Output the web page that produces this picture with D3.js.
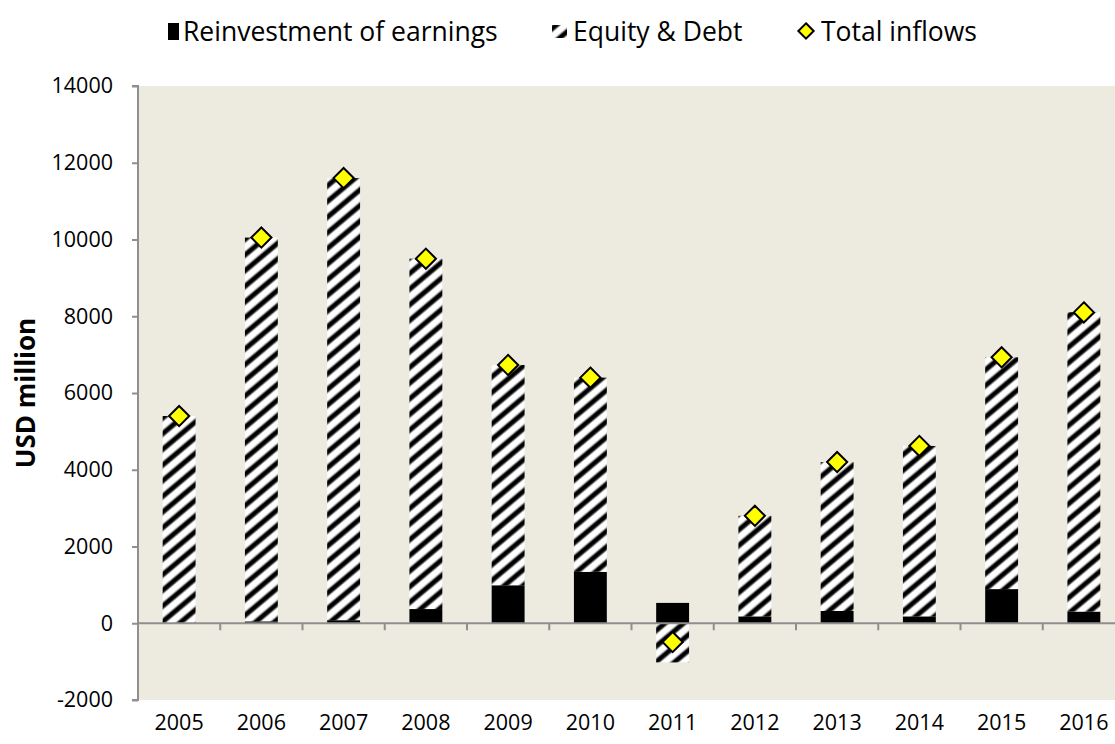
<!DOCTYPE html>
<html>
<head>
<meta charset="utf-8">
<script src="https://cdn.jsdelivr.net/npm/d3@7"></script>
<style>
  body { margin: 0; background: #fff; }
  text { font-family: "Open Sans", Lato, sans-serif; fill: #000; }
</style>
</head>
<body>
<div id="chart"></div>
<script>
// data (USD million)
const years = ["2005", "2006", "2007", "2008", "2009", "2010", "2011", "2012", "2013", "2014", "2015", "2016"];
const reinvestment = [10, 50, 80, 370, 990, 1340, 530, 180, 320, 180, 890, 305];
const equityDebt = [5390, 10000, 11520, 9130, 5740, 5060, -1020, 2620, 3880, 4440, 6040, 7800];
const totalInflows = [5400, 10050, 11600, 9500, 6730, 6400, -490, 2800, 4200, 4620, 6930, 8100];
const yTicks = [-2000, 0, 2000, 4000, 6000, 8000, 10000, 12000, 14000];

const width = 1115, height = 744;
const margin = { top: 86, left: 138, bottom: 44 };
const plotRight = 1125; // plot area runs off the right edge like the original

const svg = d3.select("#chart").append("svg")
    .attr("width", width)
    .attr("height", height);

// hatch pattern for Equity & Debt (wide upward diagonal, soft edges)
const defs = svg.append("defs");
const grad = defs.append("linearGradient").attr("id", "stripe");
[[0, "#fff"], [0.1, "#fff"], [0.28, "#000"], [0.52, "#000"], [0.7, "#fff"], [1, "#fff"]]
    .forEach(s => grad.append("stop").attr("offset", s[0]).attr("stop-color", s[1]));
const P = 12;
const pat = defs.append("pattern")
    .attr("id", "hatch")
    .attr("patternUnits", "userSpaceOnUse")
    .attr("width", P)
    .attr("height", P)
    .attr("patternTransform", "rotate(50)");
pat.append("rect").attr("width", P).attr("height", P).attr("fill", "url(#stripe)");

const x = d3.scaleBand()
    .domain(years)
    .range([margin.left, plotRight])
    .paddingInner(0.6)
    .paddingOuter(0.3);

const xOuter = d3.scaleBand().domain(years).range([margin.left, plotRight]);

const y = d3.scaleLinear()
    .domain([-2000, 14000])
    .range([height - margin.bottom, margin.top]);

// plot background
svg.append("rect")
    .attr("x", margin.left + 1)
    .attr("y", y(14000))
    .attr("width", plotRight - margin.left)
    .attr("height", y(-2000) - y(14000))
    .attr("fill", "#edeae0");

// bars
const g = svg.append("g");
years.forEach((yr, i) => {
    const r = reinvestment[i], e = equityDebt[i];
    // reinvestment from 0
    g.append("rect")
        .attr("x", x(yr))
        .attr("width", x.bandwidth())
        .attr("y", y(Math.max(0, r)))
        .attr("height", Math.abs(y(r) - y(0)))
        .attr("fill", "#000");
    // equity & debt stacked on top when positive, below zero when negative
    const base = e >= 0 ? r : 0;
    const top = base + e;
    g.append("rect")
        .attr("x", x(yr))
        .attr("width", x.bandwidth())
        .attr("y", y(Math.max(base, top)))
        .attr("height", Math.abs(y(top) - y(base)))
        .attr("fill", "url(#hatch)");
});

// axes
const axisColor = "#8f8f8f";
const yAxis = svg.append("g")
    .attr("transform", `translate(${margin.left},0)`)
    .call(d3.axisLeft(y).tickValues(yTicks).tickSize(6).tickPadding(19).tickFormat(d => String(d)));
yAxis.select(".domain").attr("stroke", axisColor).attr("stroke-width", 2).attr("d", `M-6,${y(14000)}H0V${y(-2000)}H-6`);
yAxis.selectAll(".tick line").attr("stroke", axisColor).attr("stroke-width", 2);
yAxis.selectAll(".tick text").style("font-size", "21.5px").style("font-family", "'Open Sans', sans-serif");

const xAxis = svg.append("g")
    .attr("transform", `translate(0,${y(0)})`);
xAxis.append("line")
    .attr("x1", margin.left).attr("x2", plotRight)
    .attr("stroke", axisColor).attr("stroke-width", 2);
xAxis.selectAll(".xt").data(years.slice(1))
    .enter().append("line")
    .attr("x1", d => xOuter(d)).attr("x2", d => xOuter(d))
    .attr("y1", 0).attr("y2", 7)
    .attr("stroke", axisColor).attr("stroke-width", 2);

svg.append("g").selectAll("text").data(years)
    .enter().append("text")
    .attr("x", d => xOuter(d) + xOuter.bandwidth() / 2)
    .attr("y", 730)
    .attr("text-anchor", "middle")
    .style("font-size", "21.5px")
    .text(d => d);

// total inflows diamonds
const diamond = d3.symbol().type(d3.symbolDiamond2).size(260);
svg.append("g").selectAll("path").data(totalInflows)
    .enter().append("path")
    .attr("d", diamond)
    .attr("transform", (d, i) => `translate(${x(years[i]) + x.bandwidth() / 2},${y(d)})`)
    .attr("fill", "#ffff00")
    .attr("stroke", "#000")
    .attr("stroke-width", 2);

// y axis title
svg.append("text")
    .attr("transform", `translate(35,393) rotate(-90)`)
    .attr("text-anchor", "middle")
    .style("font-size", "26px")
    .style("font-weight", "700")
    .text("USD million");

// legend
const legend = svg.append("g");
legend.append("rect")
    .attr("x", 168).attr("y", 23).attr("width", 11).attr("height", 17)
    .attr("fill", "#000");
legend.append("text").attr("x", 183).attr("y", 41).style("font-size", "26.5px").text("Reinvestment of earnings");
legend.append("rect")
    .attr("x", 552).attr("y", 25).attr("width", 15).attr("height", 13)
    .attr("fill", "url(#hatch)");
legend.append("text").attr("x", 573).attr("y", 41).style("font-size", "26.5px").text("Equity & Debt");
legend.append("path")
    .attr("d", d3.symbol().type(d3.symbolDiamond2).size(150))
    .attr("transform", "translate(806,31)")
    .attr("fill", "#ffff00").attr("stroke", "#000").attr("stroke-width", 2);
legend.append("text").attr("x", 821).attr("y", 41).style("font-size", "26.5px").text("Total inflows");
</script>
</body>
</html>
